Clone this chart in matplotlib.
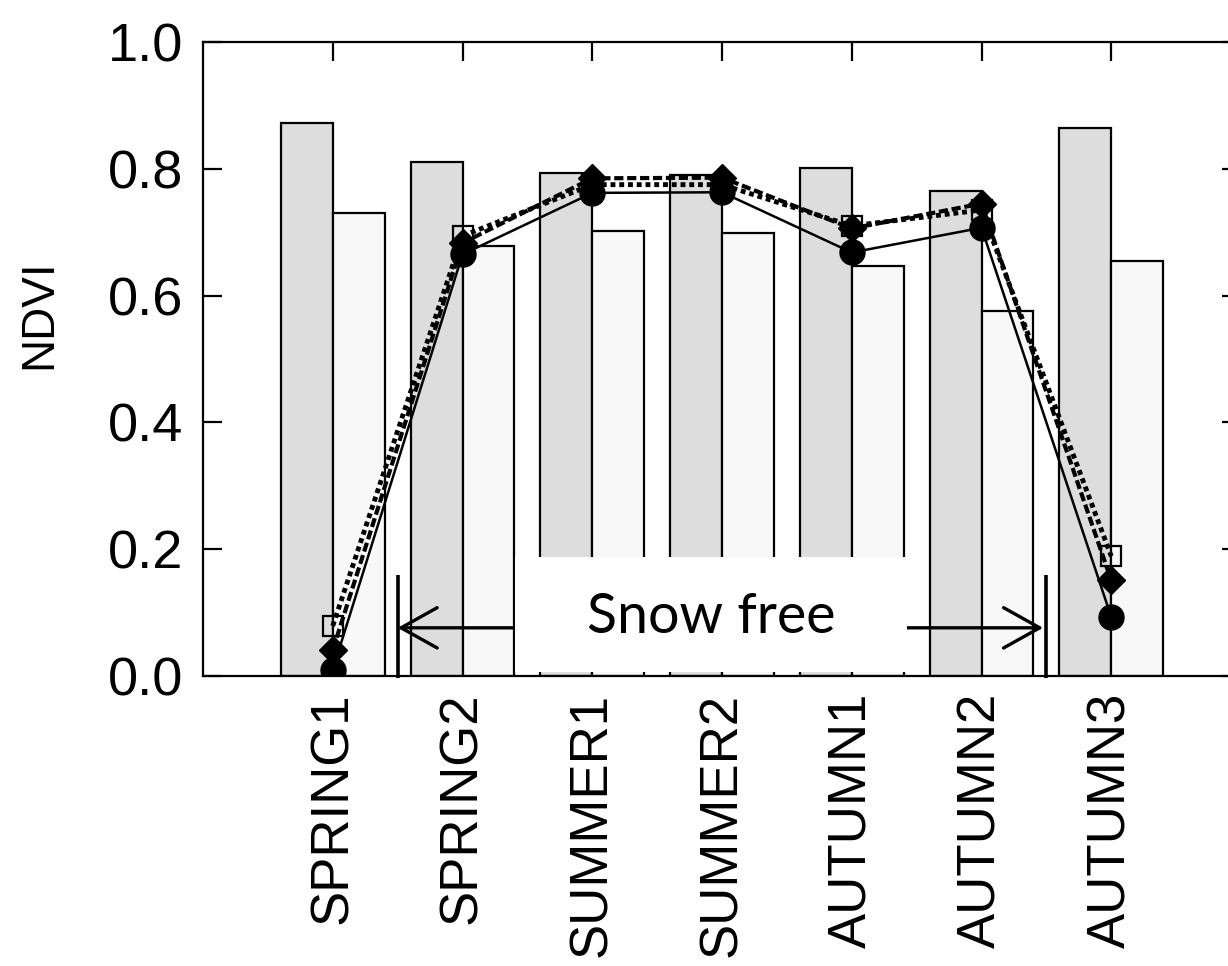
import matplotlib
matplotlib.use("Agg")
import matplotlib.pyplot as plt
from matplotlib.patches import Rectangle

plt.rcParams['font.family'] = ['Liberation Sans', 'DejaVu Sans']

categories = ["SPRING1", "SPRING2", "SUMMER1", "SUMMER2", "AUTUMN1", "AUTUMN2", "AUTUMN3"]
bar_grey = [0.873, 0.810, 0.794, 0.790, 0.802, 0.765, 0.865]
bar_white = [0.731, 0.678, 0.702, 0.699, 0.646, 0.575, 0.655]
ndvi_square = [0.079, 0.694, 0.775, 0.775, 0.710, 0.735, 0.189]
ndvi_diamond = [0.041, 0.683, 0.785, 0.786, 0.706, 0.745, 0.151]
ndvi_circle = [0.010, 0.665, 0.762, 0.763, 0.668, 0.707, 0.093]
yticks = [0.0, 0.2, 0.4, 0.6, 0.8, 1.0]

fig = plt.figure(figsize=(12.28, 9.66), dpi=100)
ax = fig.add_axes([203 / 1228, 290 / 966, 1038 / 1228, 634 / 966])

x = list(range(1, len(categories) + 1))
bw = 0.4
ax.bar([v - bw for v in x], bar_grey, width=bw, align='edge', color='#dcdddc',
       edgecolor='black', linewidth=1.6, zorder=2)
ax.bar(x, bar_white, width=bw, align='edge', color='#f8f8f8',
       edgecolor='black', linewidth=1.6, zorder=2)

ax.plot(x, ndvi_square, linestyle=(0, (1.0, 0.8)), linewidth=3.5, color='black',
        marker='s', markersize=15, markerfacecolor='none', markeredgecolor='black',
        markeredgewidth=1.6, zorder=4)
ax.plot(x, ndvi_diamond, linestyle=(0, (2.2, 0.9)), linewidth=3.0, color='black',
        marker='D', markersize=14, markerfacecolor='black', markeredgecolor='black',
        zorder=5)
ax.plot(x, ndvi_circle, linestyle='-', linewidth=1.8, color='black',
        marker='o', markersize=18, markerfacecolor='black', markeredgecolor='black',
        zorder=6)

# snow-free period marker
ax.vlines([1.5, 6.5], -0.003, 0.159, colors='black', linewidth=2.6, zorder=7, clip_on=False)
ax.annotate('', xy=(1.5, 0.076), xytext=(6.475, 0.076),
            arrowprops=dict(arrowstyle='<->, head_length=2.6, head_width=1.45',
                            color='black', linewidth=2.4, shrinkA=0, shrinkB=0),
            zorder=7)
ax.add_patch(Rectangle((2.405, 0.006), 5.426 - 2.405, 0.182, facecolor='white',
                       edgecolor='none', zorder=8))
ax.text(3.915, 0.092, 'Snow free', family=['Lato', 'DejaVu Sans'], fontsize=40,
        ha='center', va='center', zorder=9)

ax.set_xlim(0, 8)
ax.set_ylim(0, 1.0)
ax.set_yticks(yticks)
ax.set_yticklabels([f"{v:.1f}" for v in yticks], fontsize=39)
ax.set_xticks(x)
ax.set_xticklabels(categories, rotation=90, fontsize=38)
ax.tick_params(axis='both', direction='in', length=14, width=1.6,
               top=True, right=True, bottom=True, left=True)
ax.tick_params(axis='y', pad=14)
ax.tick_params(axis='x', pad=12)
for s in ax.spines.values():
    s.set_linewidth(1.6)
ax.set_ylabel('NDVI', fontsize=33)
ax.yaxis.set_label_coords(-0.137, 0.571)

fig.savefig('out.png', dpi=100)
